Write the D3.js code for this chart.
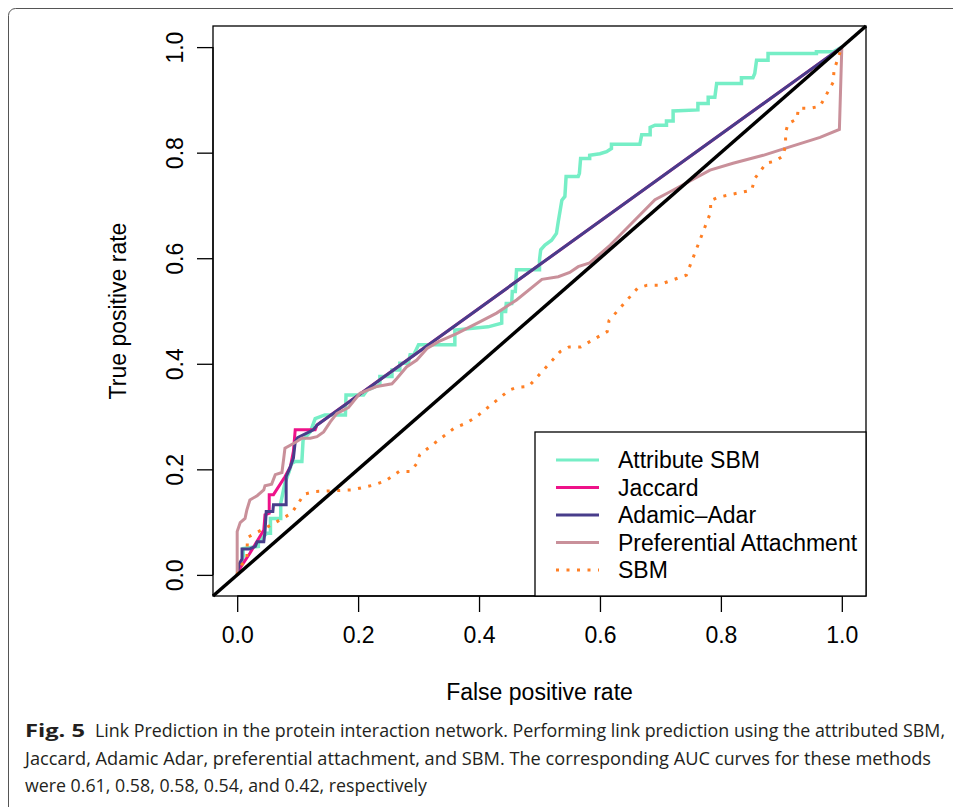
<!DOCTYPE html>
<html>
<head>
<meta charset="utf-8">
<script src="https://cdn.jsdelivr.net/npm/d3@7"></script>
<style>
  body { margin: 0; background: #fff; }
  svg text { font-family: "Liberation Sans", Arial, Helvetica, sans-serif; }
</style>
</head>
<body>
<div id="chart"></div>
<script>
// ROC curves, [false positive rate, true positive rate]
var attrSBM = [[0,0],[0.003,0.01],[0.01,0.035],[0.01,0.05],[0.035,0.054],[0.035,0.063],[0.049,0.079],[0.055,0.079],[0.055,0.107],[0.072,0.107],[0.072,0.136],[0.079,0.174],[0.086,0.196],[0.09,0.211],[0.096,0.215],[0.107,0.215],[0.109,0.256],[0.121,0.271],[0.129,0.296],[0.145,0.303],[0.179,0.303],[0.18,0.341],[0.209,0.341],[0.215,0.35],[0.236,0.36],[0.236,0.376],[0.256,0.376],[0.256,0.388],[0.269,0.388],[0.269,0.401],[0.283,0.401],[0.286,0.417],[0.292,0.417],[0.3,0.436],[0.36,0.436],[0.36,0.464],[0.415,0.47],[0.4375,0.477],[0.4375,0.499],[0.444,0.499],[0.445,0.514],[0.454,0.514],[0.455,0.537],[0.46,0.537],[0.462,0.578],[0.5,0.578],[0.5,0.597],[0.502,0.616],[0.509,0.625],[0.52,0.634],[0.528,0.647],[0.531,0.669],[0.537,0.71],[0.542,0.717],[0.544,0.755],[0.564,0.755],[0.566,0.761],[0.568,0.789],[0.583,0.789],[0.583,0.795],[0.6,0.798],[0.611,0.802],[0.619,0.808],[0.619,0.816],[0.666,0.816],[0.669,0.834],[0.683,0.834],[0.683,0.848],[0.691,0.852],[0.71,0.852],[0.71,0.86],[0.721,0.86],[0.721,0.879],[0.762,0.881],[0.762,0.893],[0.779,0.893],[0.779,0.905],[0.79,0.905],[0.793,0.931],[0.834,0.931],[0.834,0.942],[0.853,0.942],[0.856,0.95],[0.859,0.975],[0.878,0.975],[0.878,0.988],[0.958,0.988],[0.958,0.991],[0.986,0.991],[1,1]];
var jaccard = [[0,0],[0.005,0.013],[0.021,0.041],[0.044,0.085],[0.046,0.114],[0.053,0.117],[0.053,0.152],[0.06,0.152],[0.079,0.186],[0.088,0.205],[0.093,0.234],[0.096,0.275],[0.129,0.275],[0.132,0.284],[1,1]];
var adamicAdar = [[0,0],[0.003,0.02],[0.008,0.03],[0.008,0.049],[0.02,0.049],[0.03,0.054],[0.033,0.063],[0.044,0.063],[0.046,0.082],[0.048,0.12],[0.059,0.12],[0.06,0.133],[0.081,0.133],[0.081,0.186],[0.088,0.205],[0.093,0.221],[0.096,0.252],[0.1,0.26],[0.126,0.275],[0.132,0.284],[1,1]];
var prefAttach = [[0,0],[0,0.082],[0.005,0.099],[0.013,0.107],[0.016,0.123],[0.021,0.142],[0.033,0.15],[0.044,0.161],[0.046,0.169],[0.057,0.172],[0.063,0.19],[0.074,0.194],[0.077,0.221],[0.079,0.24],[0.093,0.249],[0.107,0.259],[0.121,0.259],[0.132,0.262],[0.143,0.271],[0.154,0.29],[0.165,0.306],[0.184,0.317],[0.203,0.344],[0.231,0.357],[0.256,0.362],[0.264,0.372],[0.28,0.394],[0.297,0.407],[0.314,0.429],[0.333,0.442],[0.363,0.457],[0.402,0.48],[0.429,0.496],[0.462,0.521],[0.504,0.56],[0.531,0.565],[0.55,0.573],[0.564,0.584],[0.583,0.591],[0.617,0.625],[0.655,0.669],[0.691,0.711],[0.716,0.726],[0.782,0.767],[0.82,0.78],[0.87,0.795],[0.914,0.811],[0.964,0.829],[0.996,0.844],[1,1]];
var sbm = [[0,0],[0.005,0.016],[0.016,0.03],[0.017,0.071],[0.03,0.079],[0.057,0.095],[0.09,0.117],[0.1,0.134],[0.111,0.153],[0.13,0.158],[0.19,0.161],[0.225,0.17],[0.245,0.178],[0.268,0.196],[0.287,0.196],[0.297,0.211],[0.302,0.228],[0.36,0.279],[0.378,0.287],[0.395,0.299],[0.45,0.35],[0.462,0.355],[0.482,0.357],[0.494,0.372],[0.534,0.423],[0.549,0.432],[0.568,0.432],[0.612,0.461],[0.615,0.482],[0.662,0.543],[0.678,0.549],[0.696,0.549],[0.743,0.568],[0.75,0.589],[0.783,0.687],[0.783,0.709],[0.797,0.716],[0.851,0.729],[0.856,0.751],[0.875,0.78],[0.89,0.784],[0.903,0.794],[0.907,0.816],[0.907,0.838],[0.911,0.855],[0.926,0.864],[0.928,0.884],[0.947,0.884],[0.964,0.888],[0.986,0.934],[0.987,0.956],[1,1]];

var seriesNames = ["Attribute SBM", "Jaccard", "Adamic\u2013Adar", "Preferential Attachment", "SBM"];
var seriesColors = ["#76EEC6", "#EE1289", "#483D8B", "#C9909A", "#FF7F24"];
var seriesData = [attrSBM, jaccard, adamicAdar, prefAttach, sbm];
var tickValues = [0, 0.2, 0.4, 0.6, 0.8, 1.0];

var captionLines = [
    "Link Prediction in the protein interaction network. Performing link prediction using the attributed SBM,",
    "Jaccard, Adamic Adar, preferential attachment, and SBM. The corresponding AUC curves for these methods",
    "were 0.61, 0.58, 0.58, 0.54, and 0.42, respectively"
];

var svgWidth = 953;
var svgHeight = 807;
var fontSize = "23px";

// plot box in pixels (R adds 4% on each side of [0,1])
var box = { left: 213, right: 866, top: 26, bottom: 596 };

var svg = d3.select("#chart")
    .append("svg")
    .attr("width", svgWidth)
    .attr("height", svgHeight);

// outer figure frame
svg.append("rect")
    .attr("x", 8.5).attr("y", 8.5)
    .attr("width", 970).attr("height", 830)
    .attr("rx", 7)
    .attr("fill", "none")
    .attr("stroke", "#555")
    .attr("stroke-width", 1);

var xScale = d3.scaleLinear().domain([-0.04, 1.04]).range([box.left, box.right]);
var yScale = d3.scaleLinear().domain([-0.04, 1.04]).range([box.bottom, box.top]);

var line = d3.line()
    .x(d => xScale(d[0]))
    .y(d => yScale(d[1]));

var plot = svg.append("g");

// curves
seriesData.forEach((data, i) => {
    var path = plot.append("path")
        .datum(data)
        .attr("d", line)
        .attr("fill", "none")
        .attr("stroke", seriesColors[i])
        .attr("stroke-width", i == 0 ? 3.5 : 3)
        .attr("stroke-linejoin", "miter");
    if (i == 4) {
        path.attr("stroke-dasharray", "3 7.5").attr("stroke-width", 3);
    }
});

// diagonal reference line
plot.append("line")
    .attr("x1", xScale(-0.04)).attr("y1", yScale(-0.04))
    .attr("x2", xScale(1.04)).attr("y2", yScale(1.04))
    .attr("stroke", "#000")
    .attr("stroke-width", 3.5);

// box
svg.append("rect")
    .attr("x", box.left).attr("y", box.top)
    .attr("width", box.right - box.left).attr("height", box.bottom - box.top)
    .attr("fill", "none")
    .attr("stroke", "#000")
    .attr("stroke-width", 1.3);

// axes
var xAxis = svg.append("g")
    .attr("transform", `translate(0, ${box.bottom})`)
    .call(d3.axisBottom(xScale).tickValues(tickValues).tickFormat(d3.format(".1f"))
        .tickSize(16).tickSizeOuter(0).tickPadding(15));

var yAxis = svg.append("g")
    .attr("transform", `translate(${box.left}, 0)`)
    .call(d3.axisLeft(yScale).tickValues(tickValues).tickFormat(d3.format(".1f"))
        .tickSize(16).tickSizeOuter(0));

[xAxis, yAxis].forEach(ax => {
    ax.select(".domain").attr("stroke", "#000").attr("stroke-width", 1.3);
    ax.selectAll(".tick line").attr("stroke", "#000").attr("stroke-width", 1.3);
    ax.selectAll(".tick text")
        .attr("fill", "#000")
        .style("font-size", fontSize)
        .style("font-family", "'Liberation Sans', Arial, sans-serif");
});
xAxis.select(".domain").attr("d", `M${xScale(0)},0H${xScale(1)}`);
yAxis.select(".domain").attr("d", `M0,${yScale(0)}V${yScale(1)}`);

yAxis.selectAll(".tick text")
    .attr("transform", "rotate(-90)")
    .attr("x", 0)
    .attr("y", -30)
    .attr("dy", 0)
    .attr("text-anchor", "middle");

// axis titles
svg.append("text")
    .attr("x", (xScale(0) + xScale(1)) / 2)
    .attr("y", 700)
    .attr("text-anchor", "middle")
    .style("font-size", fontSize)
    .text("False positive rate");

svg.append("text")
    .attr("transform", `translate(126, ${(yScale(0) + yScale(1)) / 2}) rotate(-90)`)
    .attr("text-anchor", "middle")
    .style("font-size", fontSize)
    .text("True positive rate");

// legend
var legend = svg.append("g");
legend.append("rect")
    .attr("x", 535).attr("y", 432)
    .attr("width", box.right - 535).attr("height", box.bottom - 432)
    .attr("fill", "#fff")
    .attr("stroke", "#000")
    .attr("stroke-width", 1.3);

seriesNames.forEach((name, i) => {
    var cy = 460 + i * 27.5;
    var l = legend.append("line")
        .attr("x1", 556).attr("x2", 599)
        .attr("y1", cy).attr("y2", cy)
        .attr("stroke", seriesColors[i])
        .attr("stroke-width", 3);
    if (i == 4) l.attr("stroke-dasharray", "3 7.5");
    legend.append("text")
        .attr("x", 618)
        .attr("y", cy + 8)
        .style("font-size", fontSize)
        .text(name);
});

// caption
var caption = svg.append("g")
    .style("fill", "#231f20");
caption.append("text")
    .attr("x", 25).attr("y", 737)
    .style("font-family", "'Open Sans', 'Noto Sans', sans-serif")
    .style("font-size", "18px")
    .style("font-weight", "bold")
    .attr("textLength", 60)
    .attr("lengthAdjust", "spacingAndGlyphs")
    .text("Fig. 5");

var captionStarts = [95, 25, 25];
var captionEnds = [945, 931, 427];
captionLines.forEach((t, i) => {
    caption.append("text")
        .attr("x", captionStarts[i])
        .attr("y", 737 + i * 27.5)
        .style("font-family", "'Open Sans', 'Noto Sans', sans-serif")
        .style("font-size", "18px")
        .attr("textLength", captionEnds[i] - captionStarts[i])
        .attr("lengthAdjust", "spacingAndGlyphs")
        .text(t);
});
</script>
</body>
</html>
